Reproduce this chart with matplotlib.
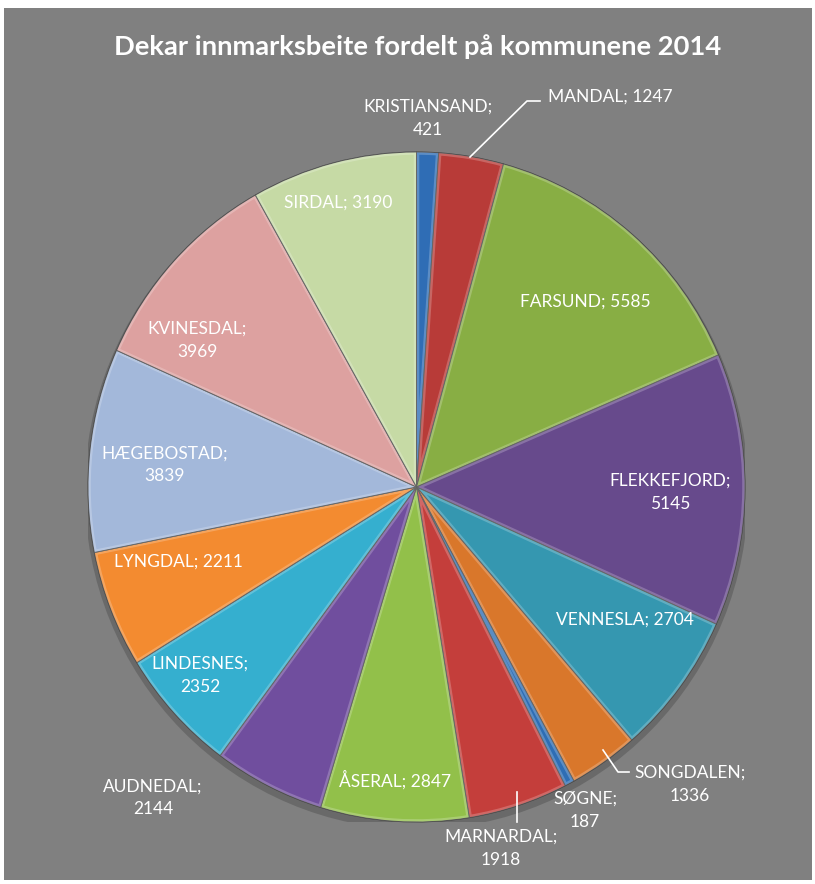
import matplotlib
matplotlib.use("Agg")
import matplotlib.pyplot as plt
from matplotlib.patches import Rectangle, Wedge, Ellipse

kommuner = ["KRISTIANSAND", "MANDAL", "FARSUND", "FLEKKEFJORD", "VENNESLA",
            "SONGDALEN", "SØGNE", "MARNARDAL", "ÅSERAL", "AUDNEDAL",
            "LINDESNES", "LYNGDAL", "HÆGEBOSTAD", "KVINESDAL", "SIRDAL"]
dekar = [421, 1247, 5585, 5145, 2704, 1336, 187, 1918, 2847, 2144,
         2352, 2211, 3839, 3969, 3190]

farger = ["#2F6DB5", "#B83B38", "#88AE44", "#674A8C", "#3597B0",
          "#D9772B", "#2E6DB4", "#C43E3B", "#92C04A", "#704E9E",
          "#35AFCF", "#F38B30", "#A3B8DA", "#DDA1A0", "#C6DAA5"]

# etikett-tekst og plassering (data-enheter, pie radius = 1)
etiketter = ["KRISTIANSAND;\n421", "MANDAL; 1247", "FARSUND; 5585",
             "FLEKKEFJORD;\n5145", "VENNESLA; 2704", "SONGDALEN;\n1336",
             "SØGNE;\n187", "MARNARDAL;\n1918", "ÅSERAL; 2847",
             "AUDNEDAL;\n2144", "LINDESNES;\n2352", "LYNGDAL; 2211",
             "HÆGEBOSTAD;\n3839", "KVINESDAL;\n3969", "SIRDAL; 3190"]
etikett_pos = [(0.035, 1.101), (0.589, 1.164), (0.513, 0.552),
               (0.772, -0.015), (0.635, -0.397), (0.832, -0.887),
               (0.513, -0.964), (0.257, -1.078), (-0.065, -0.875),
               (-0.802, -0.928), (-0.659, -0.561), (-0.726, -0.224),
               (-0.766, 0.066), (-0.668, 0.439), (-0.239, 0.848)]

W, H = 815, 884
fig = plt.figure(figsize=(W / 100, H / 100), dpi=100, facecolor="white")
fig.patches.append(Rectangle((4 / W, 4 / H), 808 / W, 872 / H,
                             transform=fig.transFigure, facecolor="#808080",
                             edgecolor="none", zorder=0))

cx, cy, rx, ry = 416.5, 487, 328.5, 335
ax = fig.add_axes([(cx - rx) / W, (H - cy - ry) / H, 2 * rx / W, 2 * ry / H])
ax.set_zorder(2)
ax.set_facecolor("none")
ax.axis("off")

# svak skygge under kaka
ax.add_patch(Ellipse((0.0, -0.012), 2.02, 2.02, facecolor="#5a5a5a",
                     edgecolor="none", alpha=0.6, zorder=0))

wedges, _ = ax.pie(dekar, colors=farger, startangle=90, counterclock=False,
                   wedgeprops=dict(edgecolor="#3f3f3f", linewidth=0.7))

# enkel "bevel": lys kant innerst i hver bit
for w in wedges:
    hl = Wedge(w.center, w.r, w.theta1, w.theta2, facecolor="none",
               edgecolor="white", linewidth=4, alpha=0.22, zorder=w.get_zorder() + 0.1)
    ax.add_patch(hl)
    hl.set_clip_path(w)

ax.set_xlim(-1, 1)
ax.set_ylim(-1, 1)
ax.set_aspect("auto")

font = "Lato"
for txt, (x, y) in zip(etiketter, etikett_pos):
    ax.text(x, y, txt, ha="center", va="center", color="white",
            fontsize=12.5, family=font, linespacing=1.55, clip_on=False,
            zorder=5)

# leder-linjer
def px(x, y):
    return ((x - cx) / rx, (cy - y) / ry)

leder = [[(470, 157), (527, 101), (540, 101)],
         [(603, 750), (618, 772), (629, 772)],
         [(517, 792), (517, 822)]]
for pts in leder:
    xs, ys = zip(*[px(a, b) for a, b in pts])
    ax.plot(xs, ys, color="white", linewidth=1.2, clip_on=False, zorder=5)

fig.text(418 / W, 1 - 47 / H, "Dekar innmarksbeite fordelt på kommunene 2014",
         ha="center", va="center", color="white", fontsize=19.7,
         fontweight="bold", family=font, zorder=3)

fig.savefig("out.png", dpi=100, facecolor=fig.get_facecolor())
